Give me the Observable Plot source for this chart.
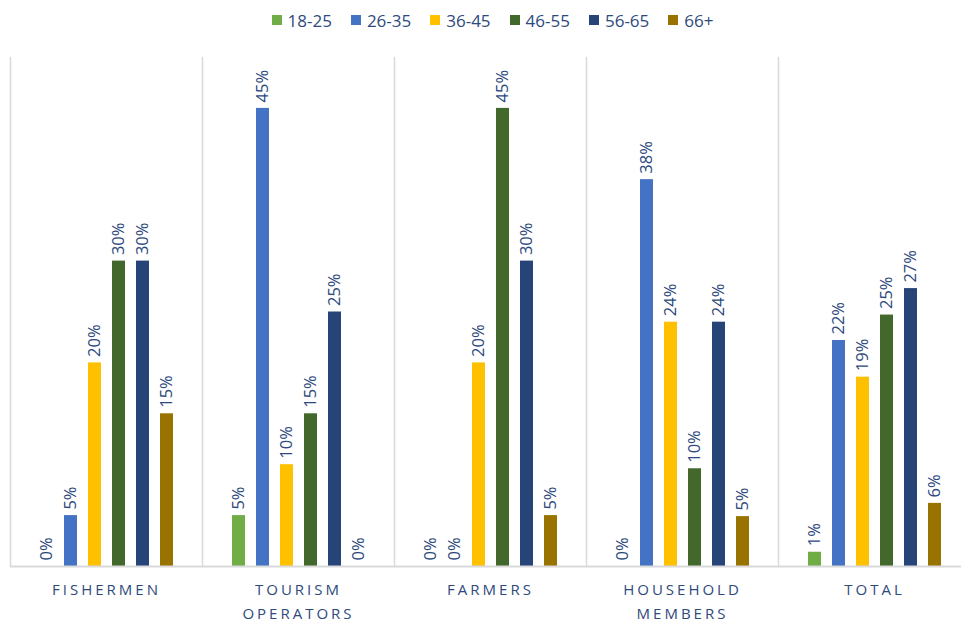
<!DOCTYPE html>
<html><head><meta charset="utf-8">
<script src="https://cdn.jsdelivr.net/npm/d3@7"></script>
<script src="https://cdn.jsdelivr.net/npm/@observablehq/plot@0.6"></script>
<style>
html,body{margin:0;padding:0;background:#fff;overflow:hidden;font-family:"Open Sans",sans-serif;}
#legend{height:40px;display:flex;justify-content:center;align-items:center;padding-left:24px;box-sizing:border-box;width:961px;}
.item{display:flex;align-items:center;margin-right:19px;font-size:17px;color:#2e4a7d;}
.item:last-child{margin-right:0;}
.sw{width:10px;height:10px;margin-right:6px;}
#chart{width:961px;overflow:hidden;}
#chart svg g[aria-label="fx-axis tick label"] text{letter-spacing:3px;}
</style></head><body>
<div id="legend"></div><div id="chart"></div>
<script>
const groups = ["FISHERMEN","TOURISM\nOPERATORS","FARMERS","HOUSEHOLD\nMEMBERS","TOTAL"];
const ageBands = ["18-25","26-35","36-45","46-55","56-65","66+"];
const colors = ["#70AD47","#4472C4","#FFC000","#43682B","#264478","#997300"];
const fishermen = [0,5,20,30,30,15];
const tourism = [5,45,10,15,25,0];
const farmers = [0,0,20,45,30,5];
const household = [0,38,24,9.6,24,4.9];
const total = [1.4,22.2,18.6,24.7,27.3,6.2];
const series = [fishermen,tourism,farmers,household,total];

const data = [];
groups.forEach((g,i)=>ageBands.forEach((a,j)=>data.push({group:g,age:a,value:series[i][j]})));

const leg = document.getElementById("legend");
ageBands.forEach((a,j)=>{
  const it=document.createElement("div");it.className="item";
  it.innerHTML=`<div class="sw" style="background:${colors[j]}"></div><span>${a}</span>`;
  leg.appendChild(it);
});

const textColor = "#2e4a7d";
const plot = Plot.plot({
  width: 970, height: 584,
  marginTop: 17, marginBottom: 58, marginLeft: 10, marginRight: 0,
  style:{fontFamily:"Open Sans, sans-serif", background:"#fff", maxWidth:"none"},
  fx:{domain:groups, padding:0, label:null},
  x:{domain:ageBands, paddingInner:0.475, paddingOuter:1.13, axis:null},
  y:{domain:[0,50], axis:null},
  color:{domain:ageBands, range:colors},
  marks:[
    Plot.frame({anchor:"left", stroke:"#d9d9d9", strokeWidth:1.5}),
    Plot.barY(data,{fx:"group", x:"age", y:"value", fill:"age"}),
    Plot.ruleY([0],{stroke:"#d9d9d9", strokeWidth:2}),
    Plot.text(data,{fx:"group", x:"age", y:"value", text:d=>Math.round(d.value)+"%", rotate:-90, textAnchor:"start", lineAnchor:"middle", dy:-6, fill:textColor, fontSize:16.5}),
    Plot.axisFx({anchor:"bottom", tickSize:0, tickPadding:11, fontSize:15, lineHeight:1.6, fill:textColor, label:null})
  ]
});
document.getElementById("chart").appendChild(plot);
</script></body></html>
